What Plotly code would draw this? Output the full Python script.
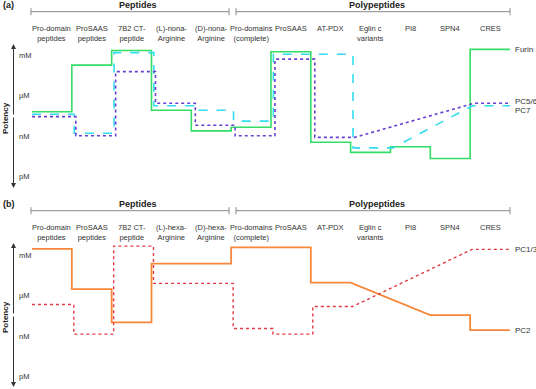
import plotly.graph_objects as go

W, H = 536, 389

categories_a = ["Pro-domain<br>peptides", "ProSAAS<br>peptides", "7B2 CT-<br>peptide",
                "(L)-nona-<br>Arginine", "(D)-nona-<br>Arginine", "Pro-domains<br>(complete)",
                "ProSAAS", "AT-PDX", "Eglin c<br>variants", "PI8", "SPN4", "CRES"]
categories_b = ["Pro-domain<br>peptides", "ProSAAS<br>peptides", "7B2 CT-<br>peptide",
                "(L)-hexa-<br>Arginine", "(D)-hexa-<br>Arginine", "Pro-domains<br>(complete)",
                "ProSAAS", "AT-PDX", "Eglin c<br>variants", "PI8", "SPN4", "CRES"]
potency_ticks = [0, 1, 2, 3]
potency_labels = ["pM", "nM", "µM", "mM"]

# potency in decades above pM (pM=0, nM=1, uM=2, mM=3); None = not measured (joined by line)
furin = [1.60, 2.75, 3.11, 1.64, 1.13, 1.22, 3.08, 0.85, 0.60, 0.74, 0.45, 3.14]
pc56 = [1.48, 1.01, 2.59, 1.81, 1.27, 1.01, 2.90, 0.97, None, None, None, 1.81]
pc7 = [1.54, 1.07, 3.06, 1.75, 1.64, 1.37, 3.02, 3.02, 0.71, None, None, 1.75]
pc2 = [3.15, 2.16, 1.34, 2.79, 2.79, 3.19, 3.19, 2.32, None, None, 1.52, 1.15]
pc13 = [1.78, 1.05, 3.22, 2.30, 2.30, 1.19, 1.05, 1.73, None, None, None, 3.14]

X0, DX = 32.0, 39.83  # pixel x of category 0 start, width of a category
PPD = 40.56           # pixels per decade


def px2x(px):
    return (px - X0) / DX


def py(p):
    return 1 - p / H


def build(vals, off):
    xs, ys = [], []
    n = len(vals)
    for i, v in enumerate(vals):
        if v is None:
            continue
        a = i + (off if i > 0 else 0)
        b = i + 1 + (off if i + 1 < n else 0)
        xs += [a, b]
        ys += [v, v]
    return xs, ys


fig = go.Figure()

series_a = [("Furin", furin, "#33dd66", "solid", 1.6, 0.0),
            ("PC7", pc7, "#33ddee", "dash", 1.6, 0.06),
            ("PC5/6", pc56, "#6a3fd0", "dot", 1.6, 0.1)]
for name, vals, col, dash, w, off in series_a:
    xs, ys = build(vals, off)
    fig.add_trace(go.Scatter(x=xs, y=ys, mode="lines", name=name,
                             line=dict(color=col, dash=dash, width=w),
                             xaxis="x", yaxis="y", showlegend=False, hoverinfo="skip"))

series_b = [("PC2", pc2, "#f7883a", "solid", 1.8, 0.0),
            ("PC1/3", pc13, "#e23a44", "dot", 1.4, 0.05)]
for name, vals, col, dash, w, off in series_b:
    xs, ys = build(vals, off)
    fig.add_trace(go.Scatter(x=xs, y=ys, mode="lines", name=name,
                             line=dict(color=col, dash=dash, width=w),
                             xaxis="x2", yaxis="y2", showlegend=False, hoverinfo="skip"))

txt = "#333333"
FONT = "Liberation Sans, Arial, sans-serif"
ann = []
shapes = []

for panel, dy, cats, yr in [("(a)", 0, categories_a, "y"), ("(b)", 199, categories_b, "y2")]:
    ann.append(dict(x=px2x(1), y=py(5 + dy), xref="x", yref="paper", text="<b>" + panel + "</b>",
                    showarrow=False, xanchor="left", yanchor="middle",
                    font=dict(size=9, color="#222", family=FONT)))
    ann.append(dict(x=px2x(138), y=py(5 + dy), xref="x", yref="paper", text="<b>Peptides</b>",
                    showarrow=False, xanchor="center", yanchor="middle",
                    font=dict(size=9, color="#222", family=FONT)))
    ann.append(dict(x=px2x(377), y=py(5 + dy), xref="x", yref="paper", text="<b>Polypeptides</b>",
                    showarrow=False, xanchor="center", yanchor="middle",
                    font=dict(size=9, color="#222", family=FONT)))
    ly = 11.7 + dy
    for a, b in [(31, 229), (236, 510)]:
        shapes.append(dict(type="line", xref="x", yref="paper", x0=px2x(a), x1=px2x(b),
                           y0=py(ly), y1=py(ly), line=dict(color="#888", width=1)))
        for e in (a, b):
            shapes.append(dict(type="line", xref="x", yref="paper", x0=px2x(e), x1=px2x(e),
                               y0=py(ly - 3.5), y1=py(ly + 3.5), line=dict(color="#888", width=1)))
    for i, c in enumerate(cats):
        ann.append(dict(x=i + 0.5, y=py(22 + dy), xref="x", yref="paper", text=c,
                        showarrow=False, xanchor="center", yanchor="top",
                        font=dict(size=7.5, color=txt, family=FONT)))
    # potency axis with arrows at both ends
    top, bot = 44 + dy, 188 + dy
    mid = (top + bot) / 2
    for end in (top, bot):
        ann.append(dict(x=px2x(13.5), y=py(end), ax=0, ay=mid - end,
                        xref="x", yref="paper", axref="pixel", ayref="pixel",
                        text="", showarrow=True, arrowhead=2, arrowsize=1, arrowwidth=1,
                        arrowcolor="#333"))
    ann.append(dict(x=px2x(5), y=py(mid + 2), xref="x", yref="paper", text="<b>Potency</b>",
                    textangle=-90, showarrow=False, xanchor="center", yanchor="middle",
                    font=dict(size=8, color="#222", family=FONT)))
    for t, lab in zip(potency_ticks, potency_labels):
        ann.append(dict(x=px2x(17), y=t, xref="x", yref=yr, text=lab, showarrow=False,
                        xanchor="left", yanchor="middle",
                        font=dict(size=7.5, color=txt, family=FONT)))

# series end labels
for name, ypx in [("Furin", 49), ("PC5/6", 102), ("PC7", 110), ("PC1/3", 249), ("PC2", 330)]:
    ann.append(dict(x=px2x(513), y=py(ypx), xref="x", yref="paper", text=name, showarrow=False,
                    xanchor="left", yanchor="middle",
                    font=dict(size=8, color=txt, family=FONT)))

xr = [px2x(0), px2x(W)]
# panel a: pixels 0..195 ; v = (176.7 - y)/PPD
ra = [(176.7 - 195) / PPD, 176.7 / PPD]
# panel b: pixels 200..389 ; v = (376.7 - y)/PPD
rb = [(376.7 - 389) / PPD, (376.7 - 200) / PPD]

axis_off = dict(visible=False, showgrid=False, zeroline=False, fixedrange=True)
fig.update_layout(
    width=W, height=H, margin=dict(l=0, r=0, t=0, b=0),
    paper_bgcolor="white", plot_bgcolor="white",
    xaxis=dict(range=xr, domain=[0, 1], anchor="y", **axis_off),
    xaxis2=dict(range=xr, domain=[0, 1], anchor="y2", **axis_off),
    yaxis=dict(range=ra, domain=[1 - 195 / H, 1], anchor="x", **axis_off),
    yaxis2=dict(range=rb, domain=[0, 1 - 200 / H], anchor="x2", **axis_off),
    annotations=ann, shapes=shapes, showlegend=False,
)

fig.write_html("out.html", config={"displayModeBar": False},
               post_script="document.body.style.margin='0';document.body.style.overflow='hidden';")
